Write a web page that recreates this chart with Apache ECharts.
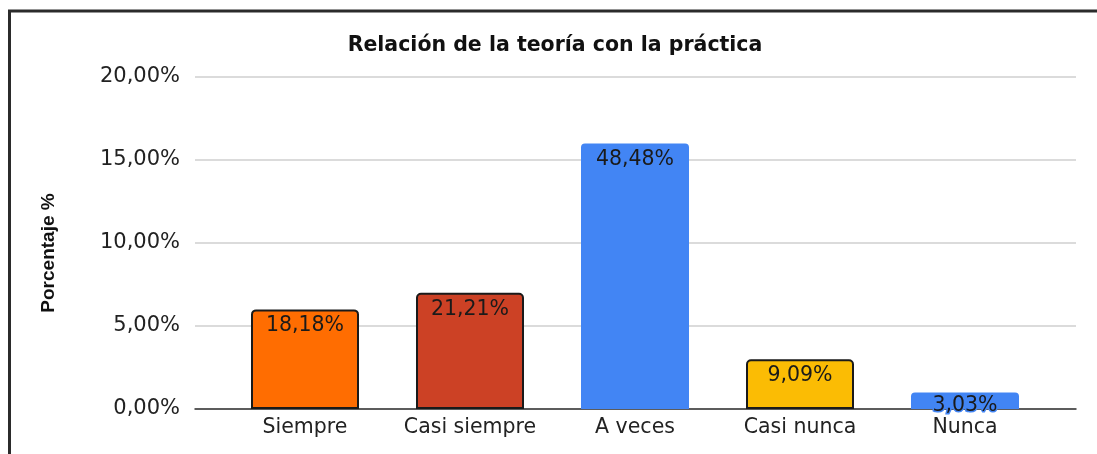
<!DOCTYPE html>
<html>
<head>
<meta charset="utf-8">
<script src="https://cdn.jsdelivr.net/npm/echarts@6/dist/echarts.min.js"></script>
<style>
html,body{margin:0;padding:0;background:#fff;}
#chart{width:1097px;height:454px;}
</style>
</head>
<body>
<div id="chart"></div>
<script>
const categories = ['Siempre', 'Casi siempre', 'A veces', 'Casi nunca', 'Nunca'];
const counts = [6, 7, 16, 3, 1];
const barColors = ['#FF6D01', '#CC4125', '#4285F4', '#FBBC04', '#4285F4'];
const barBorders = [true, true, false, true, false];
const yMin = 0, yMax = 20, yStep = 5;

const total = counts.reduce((a, b) => a + b, 0);
const fmtPct = v => v.toFixed(2).replace('.', ',') + '%';

const chart = echarts.init(document.getElementById('chart'), null, {renderer: 'canvas'});

const seriesData = counts.map((v, i) => ({
  value: v,
  itemStyle: {
    color: barColors[i],
    borderColor: barBorders[i] ? '#1a1a1a' : barColors[i],
    borderWidth: barBorders[i] ? 2 : 0,
    borderRadius: [4, 4, 0, 0]
  },
  label: i === 4 ? {textBorderColor: '#4285F4', textBorderWidth: 3, distance: 3} : {}
}));

const option = {
  animation: false,
  backgroundColor: '#ffffff',
  title: {
    text: 'Relación de la teoría con la práctica',
    left: 550,
    textAlign: 'center',
    top: 30,
    textStyle: {fontFamily: 'DejaVu Sans', fontWeight: 'bold', fontSize: 20.5, color: '#111'}
  },
  graphic: [{
    type: 'polyline',
    shape: {points: [[9.5, 454], [9.5, 11], [1097, 11]]},
    style: {stroke: '#2b2b2b', lineWidth: 3, fill: null},
    silent: true
  }, {
    type: 'text',
    x: 49, y: 253,
    rotation: Math.PI / 2,
    style: {
      text: 'Porcentaje %',
      fontFamily: 'Liberation Sans', fontWeight: 'bold', fontSize: 19, fill: '#111',
      align: 'center', verticalAlign: 'middle'
    },
    silent: true
  }],
  grid: [
    {left: 195, right: 21, top: 77, bottom: 45},
    {left: 222.5, right: 49.5, top: 77, bottom: 45}
  ],
  xAxis: [
    {
      type: 'category', gridIndex: 0, data: categories,
      axisLine: {show: true, lineStyle: {color: '#333', width: 1.5}},
      axisTick: {show: false}, axisLabel: {show: false}, splitLine: {show: false}
    },
    {
      type: 'category', gridIndex: 1, data: categories,
      axisLine: {show: false}, axisTick: {show: false},
      axisLabel: {show: true, interval: 0, margin: 8, fontFamily: 'DejaVu Sans', fontSize: 20.5, color: '#222'},
      splitLine: {show: false}
    }
  ],
  yAxis: [
    {
      type: 'value', gridIndex: 0, min: yMin, max: yMax, interval: yStep,
      axisLine: {show: false}, axisTick: {show: false},
      axisLabel: {margin: 15, fontFamily: 'DejaVu Sans', fontSize: 21, color: '#222', formatter: v => fmtPct(v)},
      splitLine: {show: true, lineStyle: {color: '#cfcfcf', width: 1.5}}
    },
    {
      type: 'value', gridIndex: 1, min: yMin, max: yMax, interval: yStep,
      show: false, splitLine: {show: false}
    }
  ],
  series: [{
    type: 'bar',
    xAxisIndex: 1, yAxisIndex: 1,
    barWidth: 108,
    data: seriesData,
    z: 3,
    label: {
      show: true,
      position: 'insideTop',
      distance: 6,
      fontFamily: 'DejaVu Sans',
      fontSize: 20.5,
      color: '#1a1a1a',
      formatter: p => fmtPct(p.value / total * 100)
    }
  }]
};
chart.setOption(option);
</script>
</body>
</html>
